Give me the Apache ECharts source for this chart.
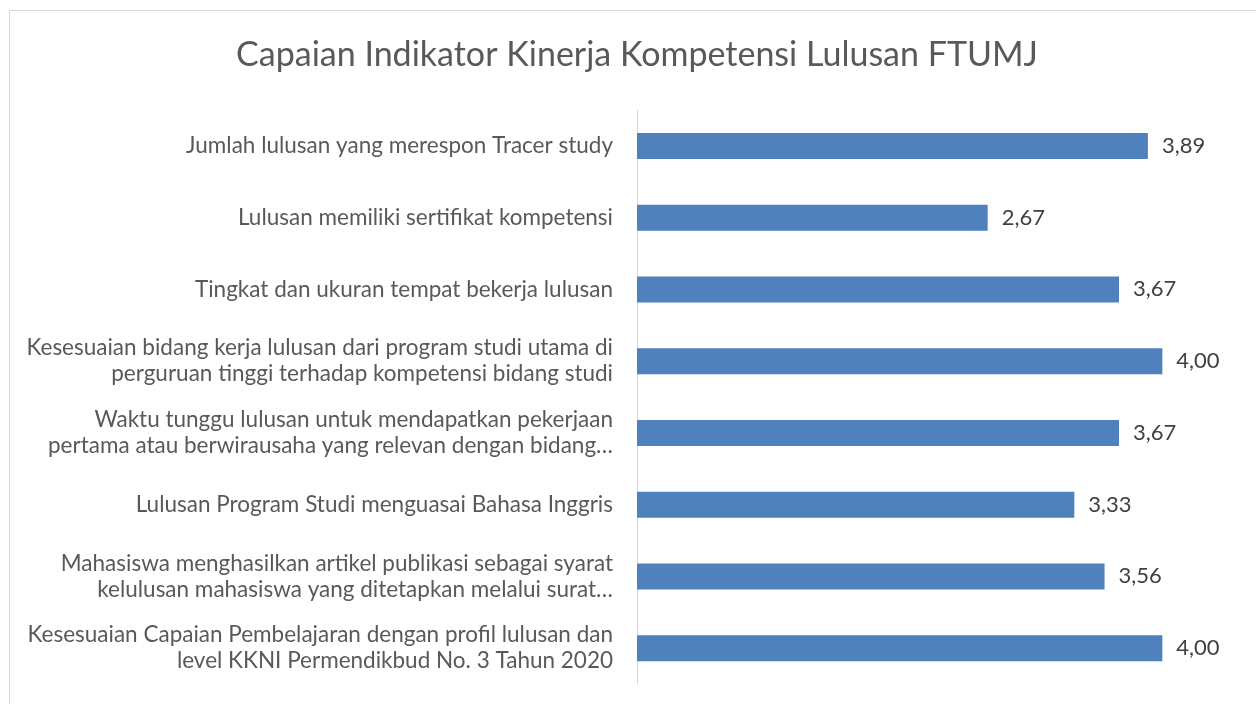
<!DOCTYPE html>
<html>
<head>
<meta charset="utf-8">
<script src="https://cdn.jsdelivr.net/npm/echarts@6/dist/echarts.min.js"></script>
<style>
  html, body { margin: 0; padding: 0; background: #fff; }
  #chart { width: 1256px; height: 704px; }
</style>
</head>
<body>
<div id="chart"></div>
<script>
// indicators, top to bottom as in the picture
const categories = [
  'Jumlah lulusan yang merespon Tracer study',
  'Lulusan memiliki sertifikat kompetensi',
  'Tingkat dan ukuran tempat bekerja lulusan',
  'Kesesuaian bidang kerja lulusan dari program studi utama di\nperguruan tinggi terhadap kompetensi bidang studi',
  'Waktu tunggu lulusan untuk mendapatkan pekerjaan\npertama atau berwirausaha yang relevan dengan bidang…',
  'Lulusan Program Studi menguasai Bahasa Inggris',
  'Mahasiswa menghasilkan artikel publikasi sebagai syarat\nkelulusan mahasiswa yang ditetapkan melalui surat…',
  'Kesesuaian Capaian Pembelajaran dengan profil lulusan dan\nlevel KKNI Permendikbud No. 3 Tahun 2020'
];
const values = [3.89, 2.67, 3.67, 4.00, 3.67, 3.33, 3.56, 4.00];

const fontFamily = 'Lato';
const textColor = '#595959';
const barColor = '#4F81BD';

const chart = echarts.init(document.getElementById('chart'), null, { renderer: 'canvas' });

chart.setOption({
  backgroundColor: '#fff',
  animation: false,
  textStyle: { fontFamily, color: textColor },
  title: {
    text: 'Capaian Indikator Kinerja Kompetensi Lulusan FTUMJ',
    left: 632, top: 33, textAlign: 'center',
    textStyle: { fontFamily, fontSize: 34, fontWeight: 'normal', color: textColor }
  },
  graphic: [{
    type: 'rect', silent: true,
    shape: { x: 9.5, y: 10.5, width: 1400, height: 900 },
    style: { fill: null, stroke: '#d9d9d9', lineWidth: 1 }
  }],
  grid: { left: 637, right: 28, top: 110, bottom: 20 },
  xAxis: {
    type: 'value', min: 0, max: 4.5, show: false
  },
  yAxis: {
    type: 'category', data: categories, inverse: true,
    axisLine: { show: true, lineStyle: { color: '#d9d9d9', width: 1 } },
    axisTick: { show: false },
    axisLabel: {
      margin: 24, fontFamily, fontSize: 22.5, color: textColor,
      lineHeight: 26, align: 'right'
    }
  },
  series: [{
    type: 'bar', data: values,
    barWidth: 26,
    itemStyle: { color: barColor },
    label: {
      show: true, position: 'right', distance: 14,
      fontFamily, fontSize: 22, color: '#404040',
      formatter: p => p.value.toFixed(2).replace('.', ',')
    }
  }]
});
</script>
</body>
</html>
